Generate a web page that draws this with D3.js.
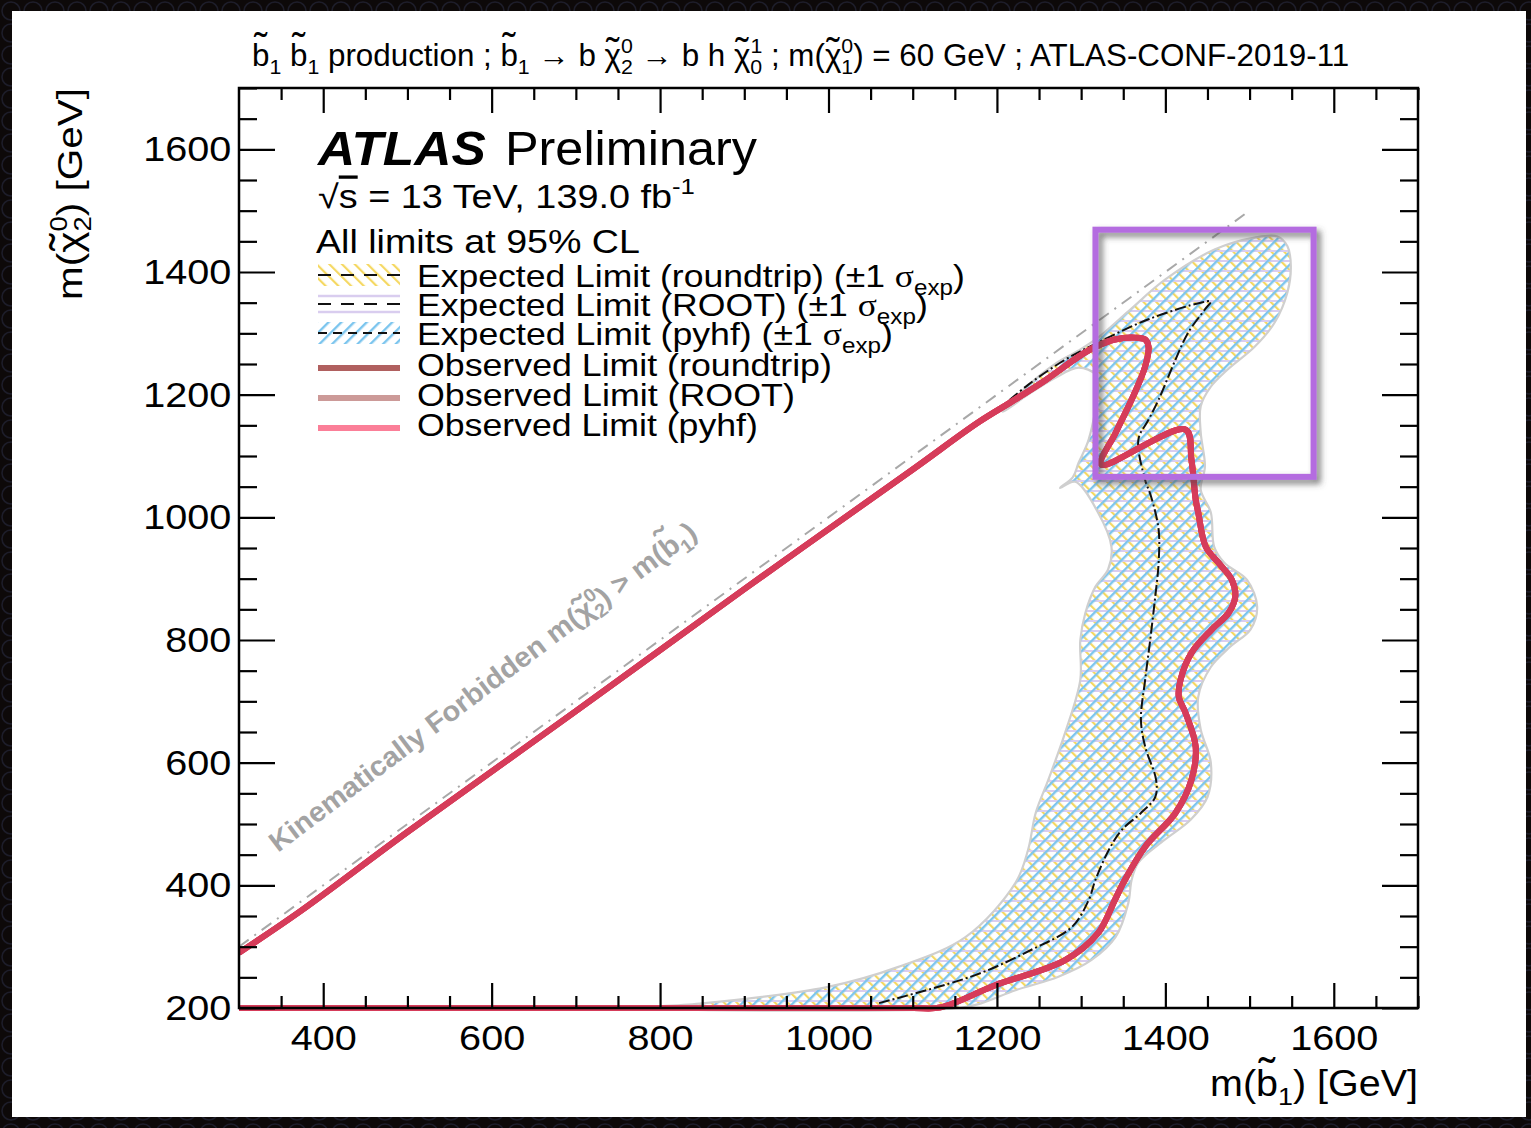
<!DOCTYPE html>
<html><head><meta charset="utf-8">
<script src="https://cdn.jsdelivr.net/npm/d3@7"></script>
<style>
html,body{margin:0;padding:0;background:#0f0b0b;overflow:hidden;}
svg{display:block;}
</style></head><body>
<svg id="c" width="1531" height="1128"></svg>
<script>
// ---------------- data ----------------
const xDomain = [300, 1700];
const yDomain = [200, 1700];
const xTickValues = [400, 600, 800, 1000, 1200, 1400, 1600];
const yTickValues = [200, 400, 600, 800, 1000, 1200, 1400, 1600];
const minorTickStep = 50;

// kinematic boundary m(chi2) = m(b1)
const kinematicLine = [[300, 300], [1500, 1500]];

// observed limit contour [m(b1), m(chi2)]
const observedLimit = [
  [300,200],[700,200],[1000,200],[1100,200],[1133,201],[1198,237],[1281,278],[1320,322],[1340,376],[1352,409],[1376,463],
  [1412,518],[1431,572],[1436,626],[1424,681],[1416,707],[1418,735],[1431,779],[1455,817],
  [1475,844],[1483,871],[1479,898],[1463,926],[1448,952],[1439,1008],[1436,1029],[1431,1094],
  [1424,1143],[1324,1086],[1341,1138],[1360,1192],[1376,1246],[1380,1278],[1376,1290],
  [1364,1293],[1340,1290],[1317,1278],[1297,1262],[1258,1224],[1218,1189],[1178,1155],
  [1100,1078],[900,883],[700,684],[500,487],[373,358],[300,290]
];

// expected limit (central) contour
const expectedLimit = [
  [1060,208],[1175,254],[1241,295],[1289,332],[1309,376],[1317,409],[1333,458],[1348,490],
  [1371,518],[1388,544],[1389,572],[1376,626],[1371,670],[1376,735],[1382,800],[1388,871],
  [1392,926],[1392,980],[1383,1034],[1376,1061],[1368,1127],[1380,1159],[1392,1192],[1412,1257],
  [1427,1301],[1447,1339],[1454,1352],[1442,1350],[1380,1323],[1320,1285],[1281,1257],
  [1237,1216],[1202,1176]
];

// expected +-1 sigma band outline
const expectedBand = [
  [775,200],[847,207],[998,234],[1083,267],[1163,316],[1222,404],[1237,458],[1246,518],
  [1261,572],[1281,649],[1299,735],[1299,800],[1305,844],[1317,887],[1332,915],[1336,952],
  [1320,1008],[1293,1058],[1275,1048],[1290,1065],[1297,1089],[1309,1127],[1320,1213],
  [1317,1233],[1297,1244],[1270,1228],[1237,1200],[1207,1172],[1237,1215],[1270,1251],
  [1297,1272],[1320,1293],[1356,1336],[1400,1388],[1459,1437],[1506,1456],[1533,1458],
  [1545,1442],[1549,1409],[1545,1367],[1530,1318],[1506,1278],[1474,1241],[1454,1213],
  [1442,1181],[1442,1138],[1447,1083],[1442,1045],[1454,1008],[1458,952],[1470,926],
  [1497,898],[1509,854],[1501,817],[1477,789],[1454,756],[1439,707],[1442,654],[1454,600],
  [1450,544],[1430,507],[1399,474],[1368,437],[1360,409],[1356,371],[1341,316],[1312,278],
  [1273,251],[1222,229],[1182,208],[1155,200]
];

// highlighted region [xmin, xmax, ymin, ymax]
const highlightBox = [1317, 1576, 1066, 1469];

const legendLabels = [
  "Expected Limit (roundtrip)", "Expected Limit (ROOT)", "Expected Limit (pyhf)",
  "Observed Limit (roundtrip)", "Observed Limit (ROOT)", "Observed Limit (pyhf)"
];
const legendSigma = [true, true, true, false, false, false];
const observedColors = ["#b0605f", "#cc9a98", "#fb7f98"];

// ---------------- setup ----------------
const FONT = '"Liberation Sans", Arial, Helvetica, sans-serif';
const SERIF = '"Liberation Serif", "Times New Roman", serif';
const svg = d3.select('#c');
const plot = {left: 239, right: 1418, top: 88, bottom: 1008};
const x = d3.scaleLinear().domain(xDomain).range([plot.left, plot.right]);
const y = d3.scaleLinear().domain(yDomain).range([plot.bottom, plot.top]);

const defs = svg.append('defs');
const bgp = defs.append('pattern').attr('id','bgp').attr('patternUnits','userSpaceOnUse')
  .attr('width',22).attr('height',22);
bgp.append('rect').attr('width',22).attr('height',22).attr('fill','#0d0909');
bgp.append('circle').attr('cx',11).attr('cy',11).attr('r',9).attr('fill','none')
  .attr('stroke','#1d1d2a').attr('stroke-width',1.5);
svg.append('rect').attr('width',1531).attr('height',1128).attr('fill','url(#bgp)');
svg.append('rect').attr('x',12).attr('y',11).attr('width',1514).attr('height',1106).attr('fill','#fff');

function hatch(id, color, angle, spacing, width) {
  const p = defs.append('pattern').attr('id', id).attr('patternUnits','userSpaceOnUse')
    .attr('width', spacing).attr('height', spacing)
    .attr('patternTransform', `rotate(${angle})`);
  p.append('rect').attr('x',0).attr('y',0).attr('width',width).attr('height',spacing).attr('fill',color);
}
hatch('hYellow', '#f5d862', -45, 9, 2.2);
hatch('hLav', '#d9cdef', 90, 10, 2);
hatch('hBlue', '#7cc5ee', 45, 9, 2.4);

defs.append('clipPath').attr('id','clip').append('rect')
  .attr('x', plot.left).attr('y', plot.top)
  .attr('width', plot.right - plot.left).attr('height', plot.bottom - plot.top + 6);

const shadow = defs.append('filter').attr('id','shadow').attr('x','-10%').attr('y','-10%')
  .attr('width','130%').attr('height','130%');
shadow.append('feDropShadow').attr('dx',4).attr('dy',4).attr('stdDeviation',3)
  .attr('flood-color','#444').attr('flood-opacity',0.7);

// rich text helper: sup/sub stacking and hand-placed tildes
function rich(textSel, parts, fs) {
  let cur = 0, pendDx = 0;
  const small = fs * 0.68;
  const up = -fs * 0.42, down = fs * 0.26;
  function add(str, dy, size) {
    const t = textSel.append('tspan').text(str);
    if (dy) t.attr('dy', dy);
    if (pendDx) { t.attr('dx', pendDx); pendDx = 0; }
    if (size) t.attr('font-size', size);
    return t;
  }
  parts.forEach(p => {
    if (typeof p === 'string') {
      add(p, -cur); cur = 0;
    } else if (p.tilde != null) {
      const b = add(p.tilde, -cur); cur = 0;
      const wb = b.node().getComputedTextLength();
      const tl = textSel.append('tspan').text('\u02DC').attr('font-size', fs * 1.25);
      const wt = tl.node().getComputedTextLength();
      const lift = p.lift != null ? p.lift : 0.02;
      tl.attr('dx', -(wb + wt) / 2).attr('dy', -fs * lift);
      cur = -fs * lift;
      pendDx = (wb - wt) / 2;
    } else if (p.t != null) {
      const t = add(p.t, -cur); cur = 0;
      if (p.family) t.attr('font-family', p.family);
      if (p.deco) t.style('text-decoration', p.deco);
    } else if (p.sup != null) {
      const t = add(p.sup, up - cur, small);
      cur = up;
      if (p.sub != null) {
        const w = t.node().getComputedTextLength();
        textSel.append('tspan').attr('dx', -w).attr('dy', down - cur).attr('font-size', small).text(p.sub);
        cur = down;
      }
    } else if (p.sub != null) {
      add(p.sub, down - cur, small);
      cur = down;
    }
  });
}
function label(parent, tx, parts, fs, opts = {}) {
  const g = parent.append('g').attr('transform', tx);
  const t = g.append('text').attr('x',0).attr('y',0).attr('font-size', fs)
    .attr('font-family', opts.family || FONT).attr('fill', opts.fill || '#000')
    .attr('text-anchor', opts.anchor || 'start');
  if (opts.weight) t.attr('font-weight', opts.weight);
  if (opts.style) t.attr('font-style', opts.style);
  rich(t, parts, fs);
  if (opts.width) {
    const w = t.node().getBBox().width;
    t.attr('transform', `scale(${opts.width / w},1)`);
  }
  return g;
}
const CHI = {tilde: 'χ', lift: 0.02};
const B = {tilde: 'b', lift: 0.2};

// ---------------- marks ----------------
const gPlot = svg.append('g').attr('clip-path','url(#clip)');
const closedCurve = d3.line().x(d => x(d[0])).y(d => y(d[1])).curve(d3.curveCatmullRomClosed.alpha(0.5));
const openCurve = d3.line().x(d => x(d[0])).y(d => y(d[1])).curve(d3.curveCatmullRom.alpha(0.5));
const straight = d3.line().x(d => x(d[0])).y(d => y(d[1]));

['hYellow','hLav','hBlue'].forEach(id => {
  gPlot.append('path').attr('d', closedCurve(expectedBand)).attr('fill', `url(#${id})`).attr('stroke','none');
});
gPlot.append('path').attr('d', closedCurve(expectedBand)).attr('fill','none')
  .attr('stroke','#cfcfcf').attr('stroke-width',2.2);

gPlot.append('path').attr('d', straight(kinematicLine)).attr('fill','none')
  .attr('stroke','#a8a8a8').attr('stroke-width',2).attr('stroke-dasharray','12,7,2,7');

gPlot.append('path').attr('d', openCurve(expectedLimit)).attr('fill','none')
  .attr('stroke','#111').attr('stroke-width',2).attr('stroke-dasharray','11,3,2,3');

observedColors.forEach(() => {
  gPlot.append('path').attr('d', openCurve(observedLimit)).attr('fill','none')
    .attr('stroke','#d63c5a').attr('stroke-width',6).attr('stroke-linejoin','round');
});

label(svg, 'translate(278,853) rotate(-37)',
  ['Kinematically Forbidden m(', CHI, {sup:'0', sub:'2'}, ') > m(', B, {sub:'1'}, ')'],
  28, {weight:'bold', fill:'#a3a3a3', width: 527});

// ---------------- axes ----------------
const xMinor = d3.range(xDomain[0] + minorTickStep, xDomain[1] + 1, minorTickStep).filter(v => !xTickValues.includes(v));
const yMinor = d3.range(yDomain[0] + minorTickStep, yDomain[1] + 1, minorTickStep).filter(v => !yTickValues.includes(v));

function styleAxis(g) {
  g.select('.domain').remove();
  g.selectAll('.tick line').attr('stroke','#000').attr('stroke-width',2.2);
  g.selectAll('.tick text').filter(function(){ return !this.textContent; }).remove();
  g.selectAll('.tick text').attr('font-size',36).attr('font-family',FONT).attr('fill','#000')
    .attr('transform','scale(1.1,1)');
}
svg.append('g').attr('transform',`translate(0,${plot.bottom})`)
  .call(d3.axisBottom(x).tickValues(xTickValues).tickSize(-25).tickPadding(16).tickFormat(d3.format('d'))).call(styleAxis);
svg.append('g').attr('transform',`translate(0,${plot.bottom})`)
  .call(d3.axisBottom(x).tickValues(xMinor).tickSize(-12).tickFormat('')).call(styleAxis);
svg.append('g').attr('transform',`translate(0,${plot.top})`)
  .call(d3.axisTop(x).tickValues(xTickValues).tickSize(-25).tickFormat('')).call(styleAxis);
svg.append('g').attr('transform',`translate(0,${plot.top})`)
  .call(d3.axisTop(x).tickValues(xMinor).tickSize(-12).tickFormat('')).call(styleAxis);
svg.append('g').attr('transform',`translate(${plot.left},0)`)
  .call(d3.axisLeft(y).tickValues(yTickValues).tickSize(-36).tickPadding(7).tickFormat(d3.format('d'))).call(styleAxis);
svg.append('g').attr('transform',`translate(${plot.left},0)`)
  .call(d3.axisLeft(y).tickValues(yMinor).tickSize(-18).tickFormat('')).call(styleAxis);
svg.append('g').attr('transform',`translate(${plot.right},0)`)
  .call(d3.axisRight(y).tickValues(yTickValues).tickSize(-36).tickFormat('')).call(styleAxis);
svg.append('g').attr('transform',`translate(${plot.right},0)`)
  .call(d3.axisRight(y).tickValues(yMinor).tickSize(-18).tickFormat('')).call(styleAxis);

svg.append('rect').attr('x',plot.left).attr('y',plot.top)
  .attr('width',plot.right-plot.left).attr('height',plot.bottom-plot.top)
  .attr('fill','none').attr('stroke','#000').attr('stroke-width',2.5);

svg.append('rect').attr('x', x(highlightBox[0])).attr('y', y(highlightBox[3]))
  .attr('width', x(highlightBox[1]) - x(highlightBox[0]))
  .attr('height', y(highlightBox[2]) - y(highlightBox[3]))
  .attr('fill','none').attr('stroke','#b46ce0').attr('stroke-width',6).attr('filter','url(#shadow)');

// ---------------- texts ----------------
label(svg, 'translate(252,66)',
  [B, {sub:'1'}, ' ', B, {sub:'1'}, '  production ; ', B, {sub:'1'}, ' → b ',
   CHI, {sup:'0', sub:'2'}, ' → b h ', CHI, {sup:'1', sub:'0'}, ' ; m(', CHI,
   {sup:'0', sub:'1'}, ') = 60 GeV ; ATLAS-CONF-2019-11'],
  31, {width: 1098});

label(svg, 'translate(1418,1096)', ['m(', B, {sub:'1'}, ') [GeV]'], 36, {anchor:'end', width: 208});
label(svg, 'translate(82,88) rotate(-90)', ['m(', CHI, {sup:'0', sub:'2'}, ') [GeV]'], 36, {anchor:'end', width: 212});

label(svg, 'translate(318,165)', ['ATLAS'], 48, {weight:'bold', style:'italic', width: 169});
label(svg, 'translate(505,165)', ['Preliminary'], 48, {width: 252});
label(svg, 'translate(318,208)', [{t:'√'}, {t:'s', deco:'overline'}, ' = 13 TeV, 139.0 fb', {sup:'-1'}], 33, {width: 377});
label(svg, 'translate(316,253)', ['All limits at 95% CL'], 33, {width: 324});

// legend
const legendCenters = [275, 304, 333, 364, 394, 424];
const legendWidths = [548, 511, 476, 415, 378, 341];
const lg = svg.append('g');
lg.append('rect').attr('x',318).attr('y',legendCenters[0]-11).attr('width',82).attr('height',22).attr('fill','url(#hYellow)');
lg.append('line').attr('x1',318).attr('x2',400).attr('y1',legendCenters[0]).attr('y2',legendCenters[0])
  .attr('stroke','#111').attr('stroke-width',2).attr('stroke-dasharray','13,10');
[-8, 8].forEach(o => lg.append('line').attr('x1',318).attr('x2',400)
  .attr('y1',legendCenters[1]+o).attr('y2',legendCenters[1]+o).attr('stroke','#d9cdef').attr('stroke-width',2.5));
lg.append('line').attr('x1',318).attr('x2',400).attr('y1',legendCenters[1]).attr('y2',legendCenters[1])
  .attr('stroke','#111').attr('stroke-width',2).attr('stroke-dasharray','13,10');
lg.append('rect').attr('x',318).attr('y',legendCenters[2]-11).attr('width',82).attr('height',22).attr('fill','url(#hBlue)');
lg.append('line').attr('x1',318).attr('x2',400).attr('y1',legendCenters[2]).attr('y2',legendCenters[2])
  .attr('stroke','#111').attr('stroke-width',2).attr('stroke-dasharray','9,6');
observedColors.forEach((c, i) => {
  lg.append('line').attr('x1',318).attr('x2',400)
    .attr('y1',legendCenters[3+i]+4).attr('y2',legendCenters[3+i]+4)
    .attr('stroke',c).attr('stroke-width',6);
});
legendLabels.forEach((t, i) => {
  const parts = legendSigma[i]
    ? [t + ' (±1 ', {t:'σ', family: SERIF}, {sub:'exp'}, ')']
    : [t];
  label(lg, `translate(417,${legendCenters[i] + 12})`, parts, 32, {width: legendWidths[i]});
});
</script>
</body></html>
